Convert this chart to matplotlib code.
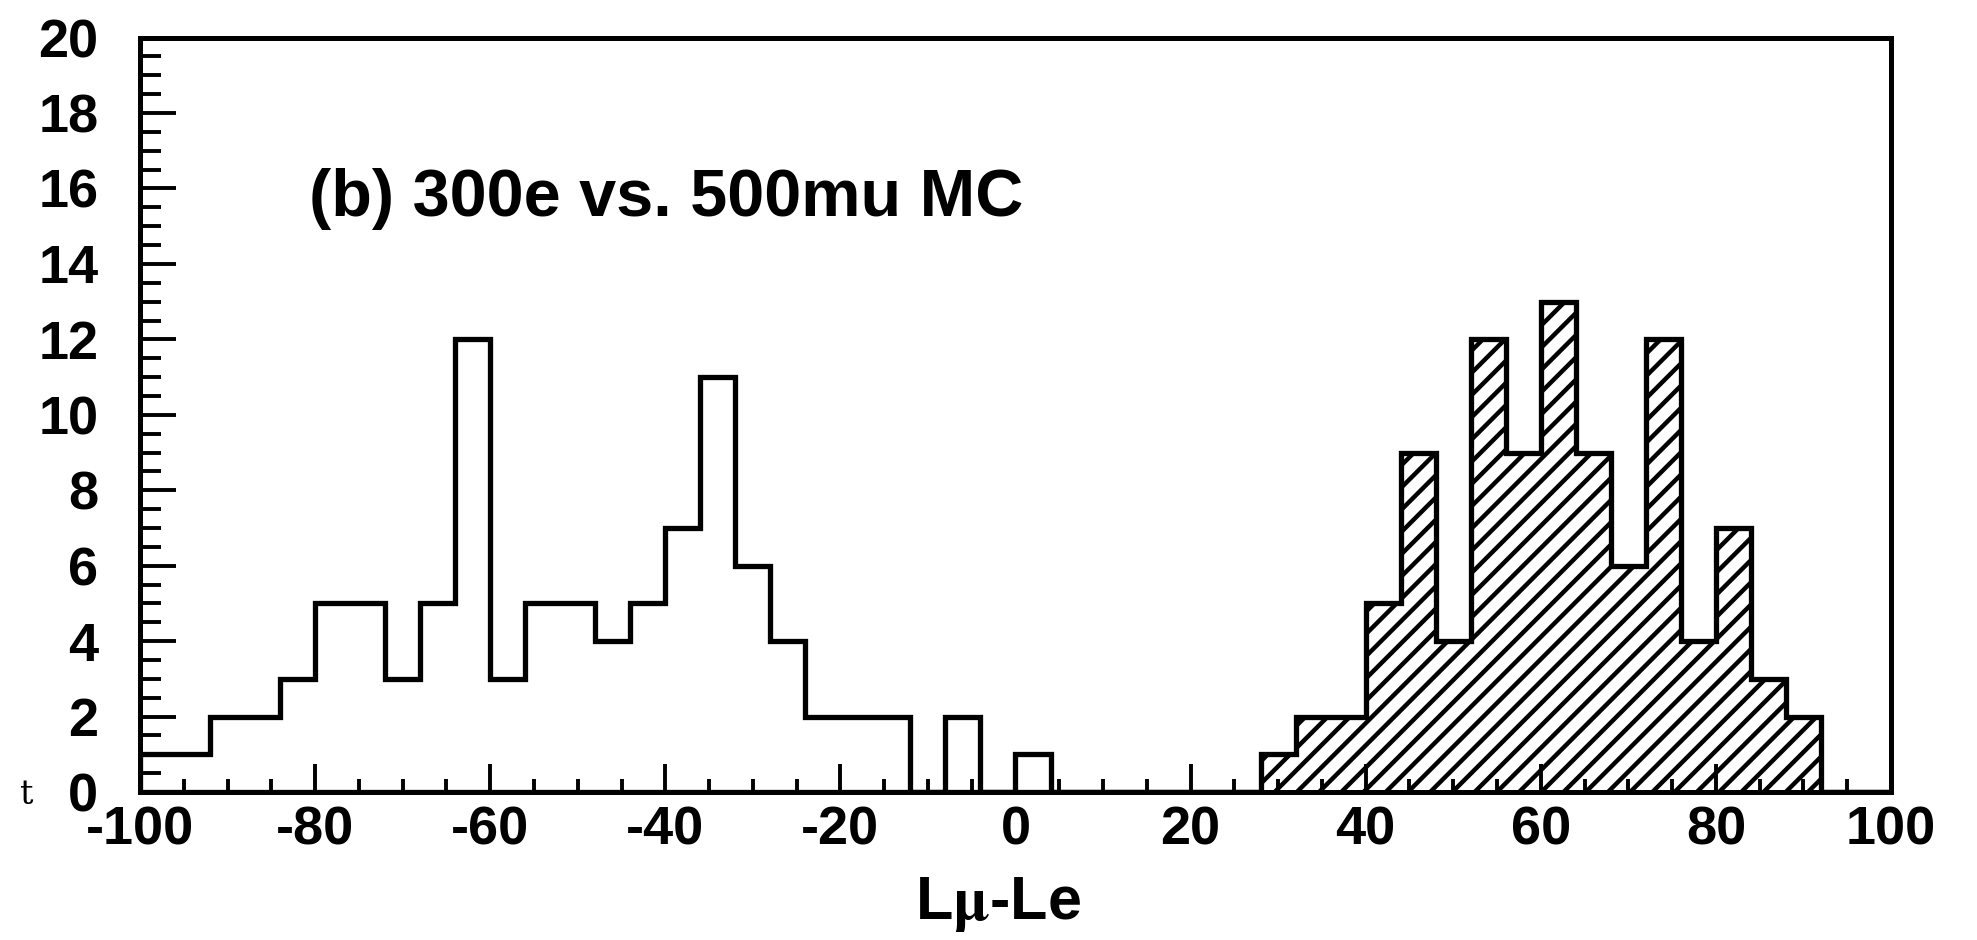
import numpy as np
import matplotlib.pyplot as plt
from matplotlib.ticker import MultipleLocator

# bin edges of the histograms (width 4, from -100 to 100)
bin_edges = np.arange(-100, 101, 4)

# 300 electron MC events (open histogram)
e_counts = [1, 1, 2, 2, 3, 5, 5, 3, 5, 12,
            3, 5, 5, 4, 5, 7, 11, 6, 4, 2,
            2, 2, 0, 2, 0, 1, 0, 0, 0, 0,
            0, 0, 0, 0, 0, 0, 0, 0, 0, 0,
            0, 0, 0, 0, 0, 0, 0, 0, 0, 0]

# 500 muon MC events (hatched histogram)
mu_counts = [0, 0, 0, 0, 0, 0, 0, 0, 0, 0,
             0, 0, 0, 0, 0, 0, 0, 0, 0, 0,
             0, 0, 0, 0, 0, 0, 0, 0, 0, 0,
             0, 0, 1, 2, 2, 5, 9, 4, 12, 9,
             13, 9, 6, 12, 4, 7, 3, 2, 0, 0]

x_ticks = [-100, -80, -60, -40, -20, 0, 20, 40, 60, 80, 100]
y_ticks = [0, 2, 4, 6, 8, 10, 12, 14, 16, 18, 20]

plt.rcParams['font.family'] = ['Liberation Sans', 'DejaVu Sans']
plt.rcParams['font.weight'] = 'bold'
plt.rcParams['hatch.linewidth'] = 1.6
plt.rcParams['mathtext.fontset'] = 'stix'
plt.rcParams['axes.unicode_minus'] = False

fig = plt.figure(figsize=(9.885, 4.70), dpi=200)
ax = fig.add_axes([0.0708, 0.1574, 0.8857, 0.8026])

#open histogram for electrons
ax.stairs(e_counts, bin_edges, color='black', linewidth=1.9)
#hatched histogram for muons
ax.stairs(mu_counts, bin_edges, fill=True, facecolor='white', edgecolor='black',
          hatch='///', linewidth=1.9)

ax.set_xlim(-100, 100)
ax.set_ylim(0, 20)
ax.set_xticks(x_ticks)
ax.set_yticks(y_ticks)
ax.xaxis.set_minor_locator(MultipleLocator(5))
ax.yaxis.set_minor_locator(MultipleLocator(0.5))

for s in ax.spines.values():
    s.set_linewidth(1.8)

ax.tick_params(axis='both', which='both', direction='in', top=False, right=False,
               width=1.4, labelsize=19.5)
ax.tick_params(axis='x', which='major', length=10, pad=5)
ax.tick_params(axis='x', which='minor', length=4.7)
ax.tick_params(axis='y', which='major', length=13, pad=15)
ax.tick_params(axis='y', which='minor', length=7.5)
for lab in ax.get_xticklabels() + ax.get_yticklabels():
    lab.set_fontweight('bold')

ax.set_xlabel(r'L$\mathrm{\mu}$-Le', fontsize=22, fontweight='bold', labelpad=0)
ax.xaxis.set_label_coords(0.49, -0.11)

ax.text(0.0965, 0.786, '(b) 300e vs. 500mu MC', transform=ax.transAxes,
        fontsize=24, fontweight='bold', va='center', ha='left')

#stray character at left margin
fig.text(0.010, 0.145, 't', fontsize=12, family='DejaVu Serif', fontweight='normal')

fig.savefig('out.png', dpi=200)
